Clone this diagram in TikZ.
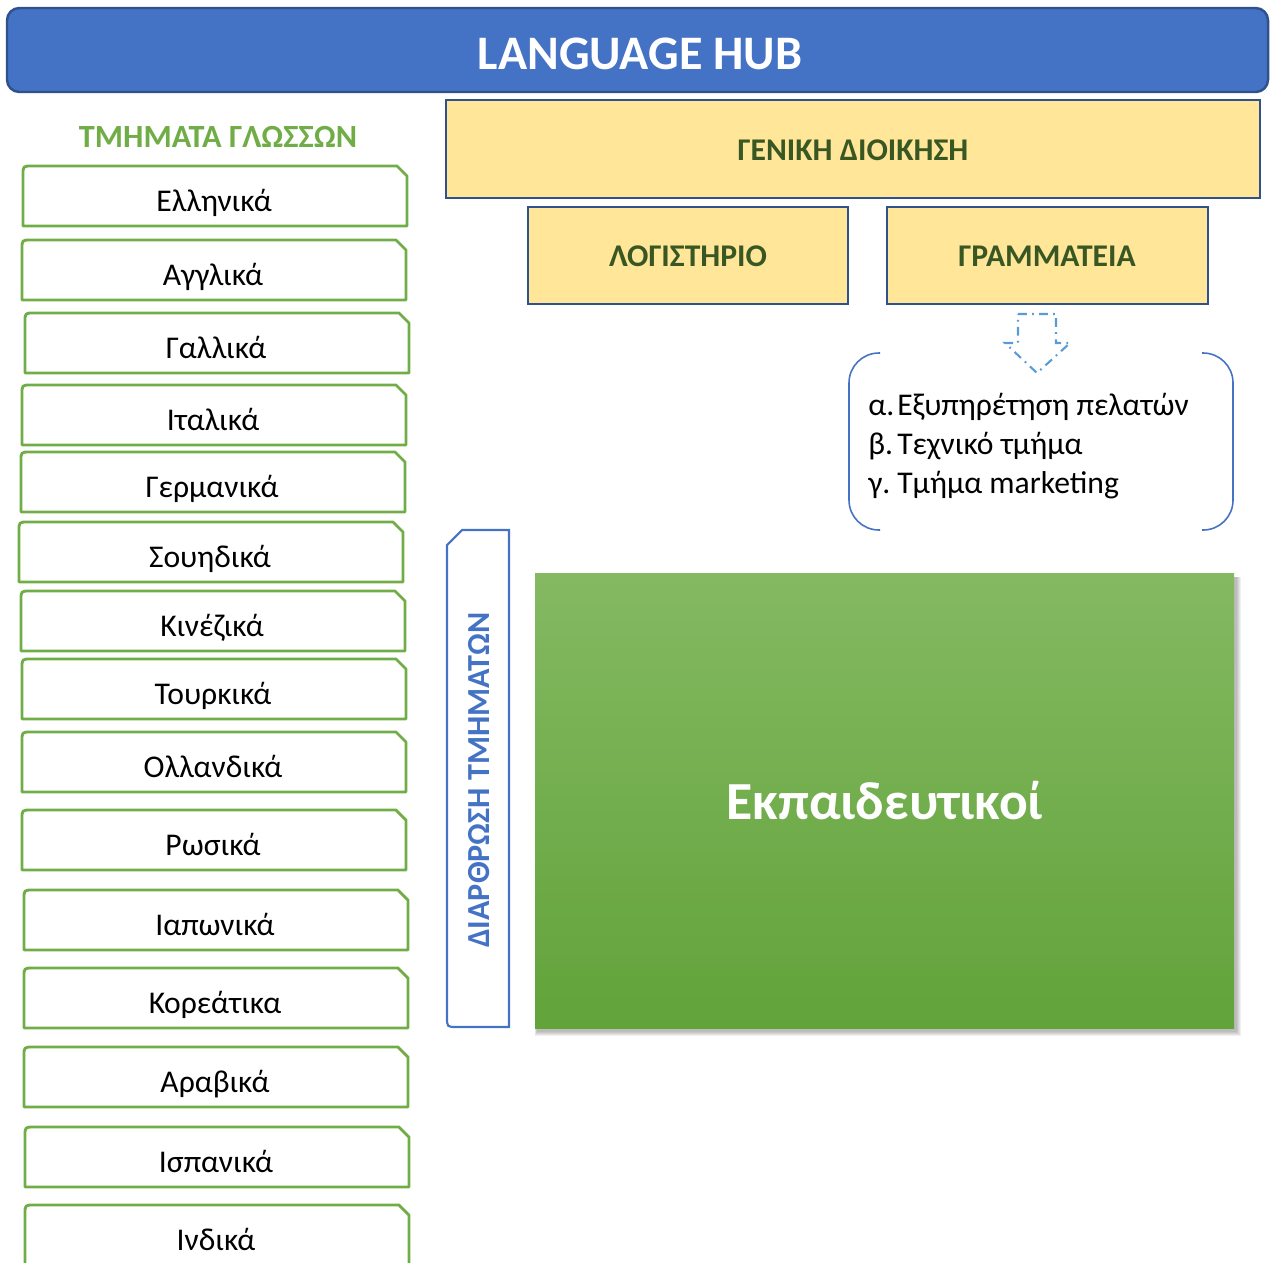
\documentclass[tikz,border=0pt]{standalone}
\usepackage{fontspec}
\setmainfont{Carlito}
\usepackage{tikz}
\definecolor{hubblue}{HTML}{4472C4}
\definecolor{hubedge}{HTML}{2F528F}
\definecolor{langgreen}{HTML}{70AD47}
\definecolor{boxyellow}{HTML}{FFE699}
\definecolor{darkgreen}{HTML}{385723}
\definecolor{arrowblue}{HTML}{5B9BD5}
\definecolor{eduTop}{HTML}{84B962}
\definecolor{eduBot}{HTML}{62A33A}

\tikzset{
    langbox/.style={draw=langgreen, line width=1.6pt, line join=round},
    langtext/.style={font=\fontsize{18}{21}\selectfont},
    headbox/.style={draw=hubedge, fill=boxyellow, line width=1.6pt},
    headtext/.style={font=\fontsize{18}{21}\selectfont\bfseries, text=darkgreen},
    listtext/.style={font=\fontsize{18}{21}\selectfont},
}

\begin{document}
\begin{tikzpicture}[x=0.02cm, y=-0.02cm]
        \useasboundingbox (0,0) rectangle (1270,1262);
        \clip (0,0) rectangle (1270,1262);

        % title bar
        \draw [fill=hubblue, draw=hubedge, line width=1.4pt, rounded corners=7pt] (7,8) rectangle (1268,92);
        \node [text=white, font=\fontsize{27.4}{32}\selectfont\bfseries] (hub) at (640,54) {LANGUAGE HUB};

        % language departments
        \node [text=langgreen, font=\fontsize{18.4}{22}\selectfont\bfseries] (langhead) at (218,137) {ΤΜΗΜΑΤΑ ΓΛΩΣΣΩΝ};
        \foreach \y/\x/\lang [count=\i] in {166/23/Ελληνικά, 240/22/Αγγλικά, 313/25/Γαλλικά, 385/22/Ιταλικά,
                452/21/Γερμανικά, 522/19/Σουηδικά, 591/21/Κινέζικά, 659/22/Τουρκικά, 732/22/Ολλανδικά,
                810/22/Ρωσικά, 890/24/Ιαπωνικά, 968/24/Κορεάτικα, 1047/24/Αραβικά, 1127/25/Ισπανικά, 1205/25/Ινδικά} {
            \draw [langbox] (\x,\y+60) -- (\x,\y+9) .. controls (\x,\y) .. (\x+9,\y) -- (\x+374,\y) -- (\x+384,\y+10) -- (\x+384,\y+60) -- cycle;
            \node [langtext, anchor=base] (lang\i) at (\x+191,\y+45) {\lang};
            };

        % administration
        \draw [headbox] (446,100) rectangle (1260,198);
        \node [headtext] (admin) at (853,150) {ΓΕΝΙΚΗ ΔΙΟΙΚΗΣΗ};
        \draw [headbox] (528,207) rectangle (848,304);
        \node [headtext] (account) at (688,256) {ΛΟΓΙΣΤΗΡΙΟ};
        \draw [headbox] (887,207) rectangle (1208,304);
        \node [headtext] (secretary) at (1047,256) {ΓΡΑΜΜΑΤΕΙΑ};

        % dotted block arrow
        \draw [arrowblue, line width=1.2pt, dash pattern=on 5pt off 3pt on 1pt off 3pt]
            (1018,314) -- (1056,314) -- (1056,343) -- (1070,343) -- (1037,373) -- (1005,343) -- (1018,343) -- cycle;

        % bracket pair
        \draw [hubblue, line width=0.9pt, rounded corners=17pt] (880,353) -- (849,353) -- (849,530) -- (880,530);
        \draw [hubblue, line width=0.9pt, rounded corners=17pt] (1202,353) -- (1233,353) -- (1233,530) -- (1202,530);
        \foreach \lbl/\txt [count=\i] in {α./Εξυπηρέτηση πελατών, β./Τεχνικό τμήμα, γ./Τμήμα marketing} {
            \node [listtext, anchor=base west, inner sep=0pt] (task\i) at (868,376+39*\i) {\makebox[16.5pt][l]{\lbl}\txt};
            };

        % structure label
        \draw [hubblue, line width=1.2pt] (447,545) -- (462,530) -- (509,530) -- (509,1027) -- (457,1027) .. controls (447,1027) .. (447,1017) -- cycle;
        \node [rotate=90, text=hubblue, font=\fontsize{18.3}{22}\selectfont\bfseries] (structure) at (479,780) {ΔΙΑΡΘΡΩΣΗ ΤΜΗΜΑΤΩΝ};

        % teachers
        \foreach \k in {1,...,5} {
            \fill [black, opacity=0.06] (537-0.4*\k,577) rectangle (1236+\k,1031+\k);
            };
        \shade [top color=eduTop, middle color=langgreen, bottom color=eduBot] (535,573) rectangle (1234,1028);
        \node [text=white, font=\fontsize{30.5}{34}\selectfont\bfseries] (teachers) at (885,801) {Εκπαιδευτικοί};
    \end{tikzpicture}
\end{document}
